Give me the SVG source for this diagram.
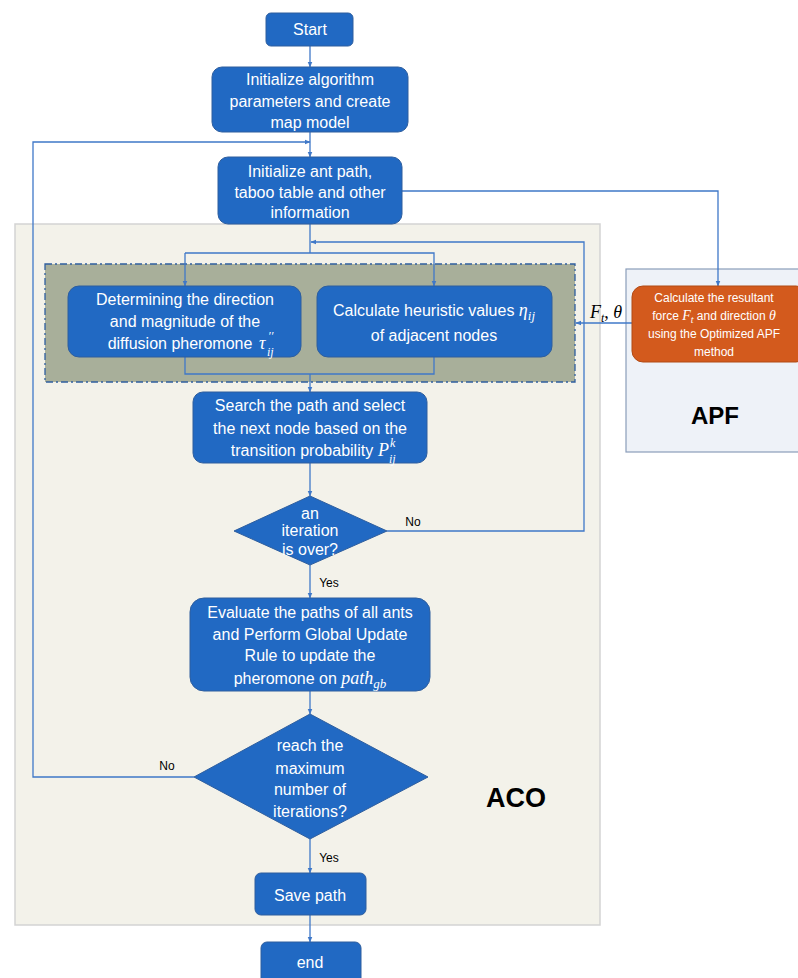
<svg xmlns="http://www.w3.org/2000/svg" width="798" height="978" viewBox="0 0 798 978">
<style>
.node{fill:#2169C3;stroke:#2E5E9E;stroke-width:1}
.t{font-family:"Liberation Sans",Arial,sans-serif;font-size:16px;fill:#fff;text-anchor:middle}
.o{font-family:"Liberation Sans",Arial,sans-serif;font-size:12px;fill:#fff;text-anchor:middle}
.m{font-family:"Liberation Serif","Times New Roman",serif;font-style:italic}
.lbl{font-family:"Liberation Sans",Arial,sans-serif;font-size:12px;fill:#000}
.c{fill:none;stroke:#3F78C8;stroke-width:1.3}
</style>
<defs>
<marker id="ah" viewBox="0 0 10 10" refX="9" refY="5" markerWidth="6" markerHeight="6" orient="auto" markerUnits="userSpaceOnUse">
<path d="M0,1 L10,5 L0,9 z" fill="#3F78C8"/>
</marker>
</defs>
<rect width="798" height="978" fill="#fff"/>
<g id="aco-region">
<rect x="15" y="224" width="585" height="701" fill="#F3F2EA" stroke="#D3D3D3" stroke-width="1.5"/>
<text x="516" y="807" font-family="Liberation Sans,Arial,sans-serif" font-size="27" font-weight="bold" text-anchor="middle" fill="#000">ACO</text>
</g>
<g id="apf-region">
<rect x="626" y="269" width="180" height="183" fill="#EEF2F8" stroke="#8A9DBA" stroke-width="1.2"/>
<text x="715" y="424" font-family="Liberation Sans,Arial,sans-serif" font-size="24" font-weight="bold" text-anchor="middle" fill="#000">APF</text>
</g>
<g id="group-box">
<rect x="45" y="264" width="530" height="118" fill="#A8AF9A" stroke="#2F5F9F" stroke-width="1.3" stroke-dasharray="7,3,2,3"/>
</g>
<g id="connectors">
<line class="c" x1="310" y1="46" x2="310" y2="67" marker-end="url(#ah)"/>
<line class="c" x1="310" y1="132" x2="310" y2="157" marker-end="url(#ah)"/>
<polyline class="c" points="194,777 33,777 33,142 310,142" marker-end="url(#ah)"/>
<polyline class="c" points="402,191 718,191 718,286" marker-end="url(#ah)"/>
<polyline class="c" points="310,224 310,253"/>
<polyline class="c" points="387,531 584,531 584,242 311,242" marker-end="url(#ah)"/>
<polyline class="c" points="185,253 185,286" marker-end="url(#ah)"/>
<polyline class="c" points="185,253 434,253 434,286" marker-end="url(#ah)"/>
<polyline class="c" points="185,357 185,374 434,374 434,357"/>
<line class="c" x1="310" y1="374" x2="310" y2="392" marker-end="url(#ah)"/>
<line class="c" x1="632" y1="323" x2="576" y2="323" marker-end="url(#ah)"/>
<line class="c" x1="310" y1="463" x2="310" y2="496" marker-end="url(#ah)"/>
<line class="c" x1="310" y1="565" x2="310" y2="598" marker-end="url(#ah)"/>
<line class="c" x1="310" y1="691" x2="310" y2="714" marker-end="url(#ah)"/>
<line class="c" x1="310" y1="839" x2="310" y2="873" marker-end="url(#ah)"/>
<line class="c" x1="310" y1="915" x2="310" y2="942" marker-end="url(#ah)"/>
<text class="lbl" x="413" y="526" text-anchor="middle">No</text>
<text class="lbl" x="329" y="587" text-anchor="middle">Yes</text>
<text class="lbl" x="167" y="770" text-anchor="middle">No</text>
<text class="lbl" x="329" y="862" text-anchor="middle">Yes</text>
<text x="606" y="318" font-size="18" text-anchor="middle" fill="#000"><tspan class="m">F</tspan><tspan class="m" font-size="12" dy="4">t</tspan><tspan font-family="Liberation Serif,serif" dy="-4">, </tspan><tspan class="m">θ</tspan></text>
</g>
<g id="start">
<rect class="node" x="266" y="13" width="87" height="33" rx="5"/>
<text class="t" x="310" y="35" font-size="13">Start</text>
</g>
<g id="init-params">
<rect class="node" x="212" y="67" width="196" height="65" rx="10"/>
<text class="t" x="310" y="85">Initialize algorithm</text>
<text class="t" x="310" y="107">parameters and create</text>
<text class="t" x="310" y="128">map model</text>
</g>
<g id="init-ant">
<rect class="node" x="218" y="157" width="184" height="67" rx="10"/>
<text class="t" x="310" y="177">Initialize ant path,</text>
<text class="t" x="310" y="198">taboo table and other</text>
<text class="t" x="310" y="218">information</text>
</g>
<g id="diffusion">
<rect class="node" x="68" y="286" width="233" height="71" rx="11"/>
<text class="t" x="185" y="305">Determining the direction</text>
<text class="t" x="185" y="327">and magnitude of the</text>
<text class="t" x="180" y="349">diffusion pheromone</text>
<text x="259" y="349" font-size="18" fill="#fff" class="m">τ</text>
<text x="268" y="340" font-size="12" fill="#fff" class="m">′′</text>
<text x="267" y="356" font-size="12" fill="#fff" class="m">ij</text>
</g>
<g id="heuristic">
<rect class="node" x="317" y="286" width="235" height="71" rx="11"/>
<text class="t" x="434" y="316">Calculate heuristic values <tspan class="m" font-size="18">η</tspan><tspan class="m" font-size="13" dy="4">ij</tspan></text>
<text class="t" x="434" y="341">of adjacent nodes</text>
</g>
<g id="apf-calc">
<rect x="632" y="286" width="175" height="76" rx="11" fill="#D35A1D" stroke="#B14A15" stroke-width="1"/>
<text class="o" x="714" y="302">Calculate the resultant</text>
<text class="o" x="714" y="320">force <tspan class="m" font-size="14">F</tspan><tspan class="m" font-size="10" dy="3">t</tspan><tspan dy="-3"> and direction </tspan><tspan class="m" font-size="14">θ</tspan></text>
<text class="o" x="714" y="338">using the Optimized APF</text>
<text class="o" x="714" y="356">method</text>
</g>
<g id="search">
<rect class="node" x="193" y="392" width="234" height="71" rx="10"/>
<text class="t" x="310" y="411">Search the path and select</text>
<text class="t" x="310" y="434">the next node based on the</text>
<text class="t" x="302" y="456">transition probability</text>
<text x="378" y="456" font-size="18" fill="#fff" class="m">P</text>
<text x="390" y="447" font-size="12" fill="#fff" class="m">k</text>
<text x="389" y="463" font-size="12" fill="#fff" class="m">ij</text>
</g>
<g id="iteration-over">
<polygon class="node" points="310,496 387,531 310,565 234,531"/>
<text class="t" x="310" y="519" font-size="14">an</text>
<text class="t" x="310" y="536" font-size="14">iteration</text>
<text class="t" x="310" y="555" font-size="14">is over?</text>
</g>
<g id="evaluate">
<rect class="node" x="190" y="598" width="240" height="93" rx="14"/>
<text class="t" x="310" y="618">Evaluate the paths of all ants</text>
<text class="t" x="310" y="640">and Perform Global Update</text>
<text class="t" x="310" y="661">Rule to update the</text>
<text class="t" x="310" y="684">pheromone on <tspan class="m" font-size="18">path</tspan><tspan class="m" font-size="13" dy="4">gb</tspan></text>
</g>
<g id="max-iter">
<polygon class="node" points="310,714 428,777 310,839 194,777"/>
<text class="t" x="310" y="751">reach the</text>
<text class="t" x="310" y="774">maximum</text>
<text class="t" x="310" y="795">number of</text>
<text class="t" x="310" y="817">iterations?</text>
</g>
<g id="save">
<rect class="node" x="255" y="873" width="111" height="42" rx="6"/>
<text class="t" x="310" y="901">Save path</text>
</g>
<g id="end">
<rect class="node" x="261" y="942" width="100" height="46" rx="6"/>
<text class="t" x="310" y="968">end</text>
</g>
</svg>
